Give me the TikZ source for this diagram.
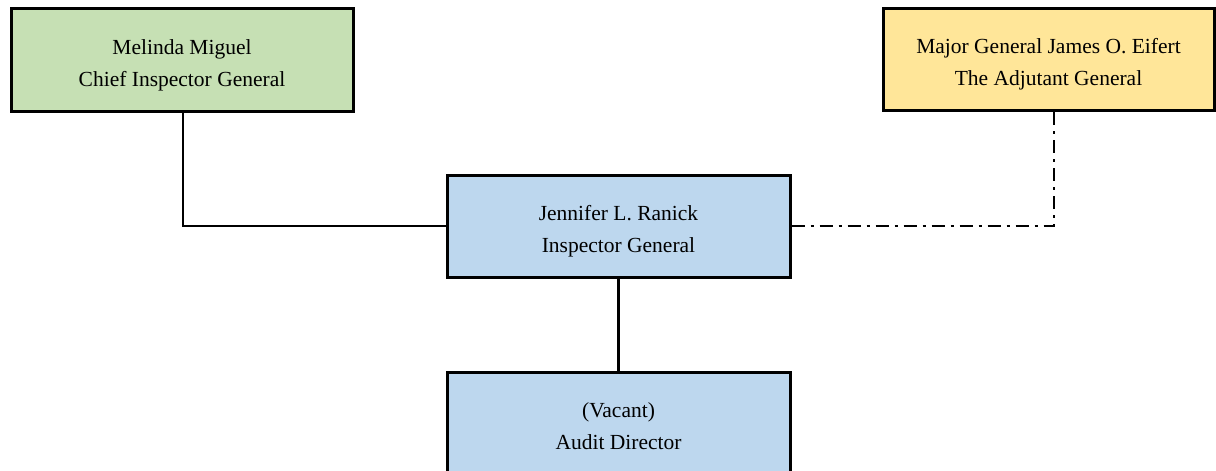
\documentclass[tikz,border=0pt]{standalone}
\usepackage{fontspec}
\setmainfont{Liberation Serif}
\definecolor{boxgreen}{HTML}{C6E0B4}
\definecolor{boxyellow}{HTML}{FFE699}
\definecolor{boxblue}{HTML}{BDD7EE}
\newcommand{\toppad}{\rule{0pt}{26pt}}
\begin{document}
\begin{tikzpicture}[x=1pt,y=-1pt,
  orgbox/.style={draw=black,line width=3pt,rectangle,inner sep=0pt,
    align=center,font=\fontsize{21.5}{32}\selectfont,text=black},
  link/.style={line width=2.6pt,draw=black},
  dashdot/.style={line width=2.6pt,draw=black,dash pattern=on 13pt off 6pt on 3pt off 6pt}]
\useasboundingbox (0,0) rectangle (1216,471);
\clip (0,0) rectangle (1216,471);
\node[orgbox,fill=boxgreen,minimum width=342pt,minimum height=103pt] (mm) at (182,59.5)
  {\toppad Melinda Miguel\\Chief Inspector General};
\node[orgbox,fill=boxyellow,minimum width=331pt,minimum height=102pt] (je) at (1048.5,59)
  {\toppad Major General James O. Eifert\\The Adjutant General};
\node[orgbox,fill=boxblue,minimum width=343pt,minimum height=102pt] (jr) at (618.5,226)
  {\toppad Jennifer L. Ranick\\Inspector General};
\node[orgbox,fill=boxblue,minimum width=343pt,minimum height=104pt] (ad) at (618.5,424)
  {\rule{0pt}{20pt}(Vacant)\\Audit Director};
\coordinate (c1) at (183,226);
\coordinate (c2) at (1054,226);
\draw[link] (mm.south -| c1) -- (c1) -- (jr.west);
\draw[link] (jr.south) -- (ad.north);
\draw[dashdot] (jr.east) -- (c2) -- (je.south -| c2);
\end{tikzpicture}
\end{document}
